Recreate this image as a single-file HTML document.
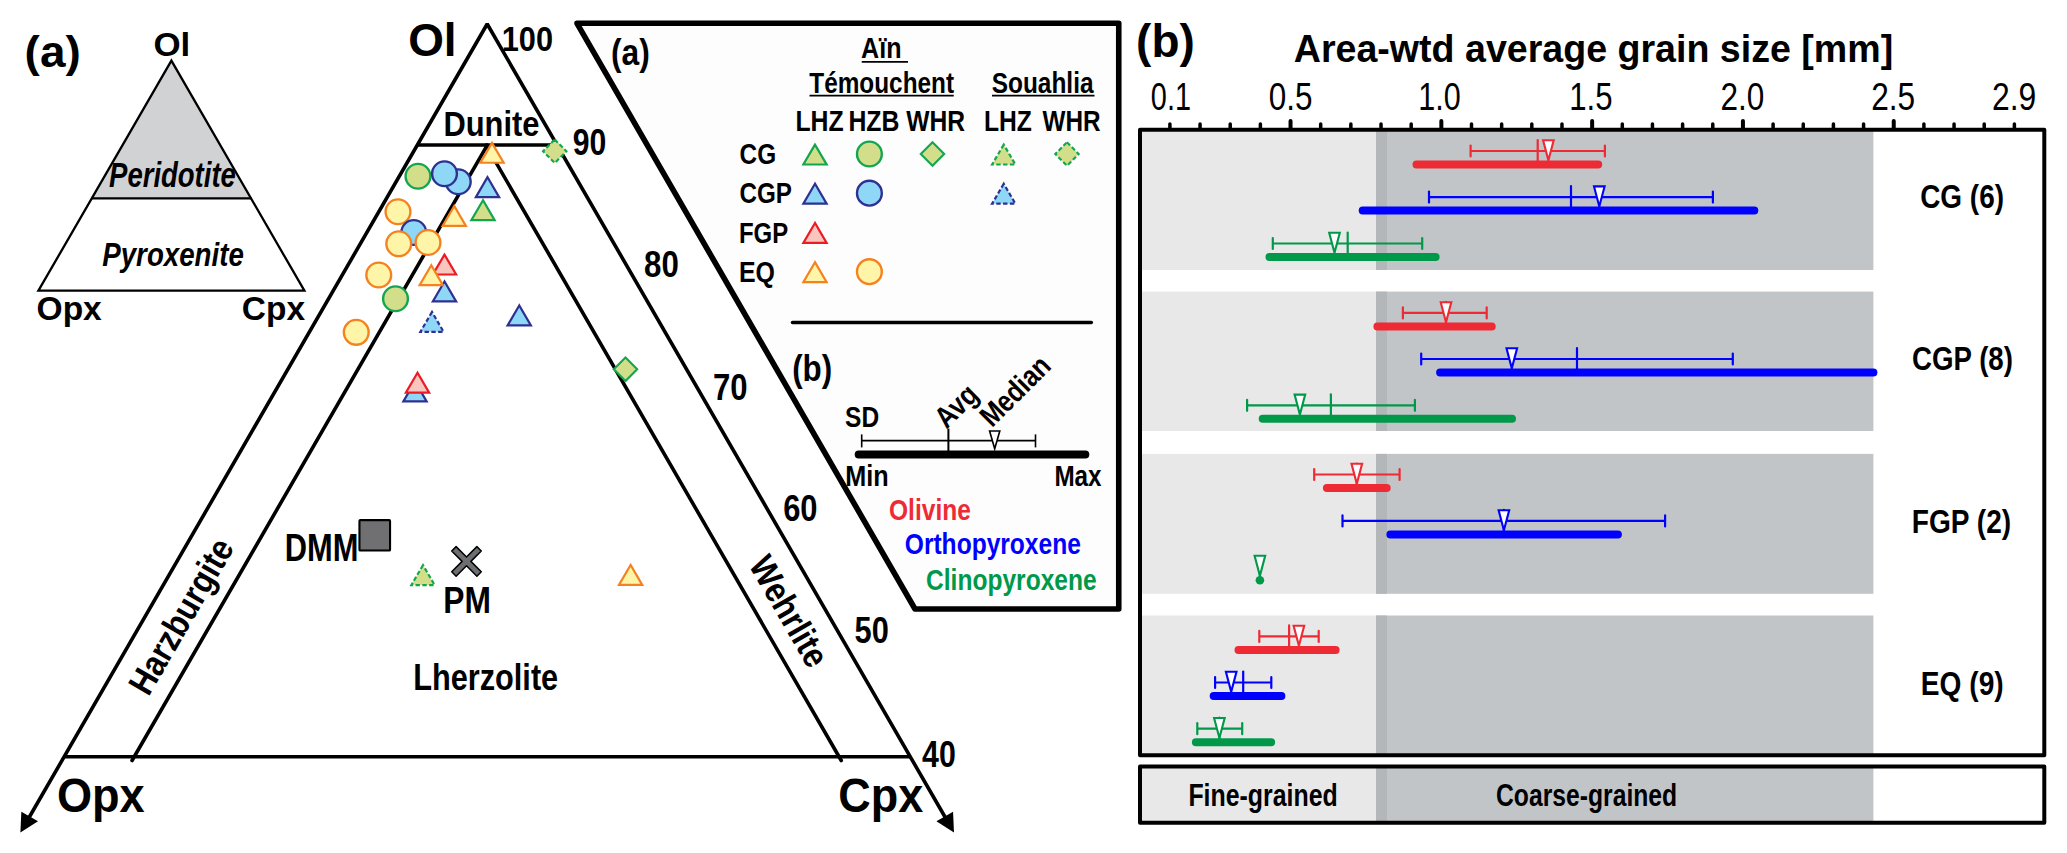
<!DOCTYPE html>
<html><head><meta charset="utf-8"><title>Figure</title>
<style>html,body{margin:0;padding:0;background:#fff;}svg{display:block;font-family:"Liberation Sans",sans-serif;}</style>
</head><body>
<svg width="2067" height="853" viewBox="0 0 2067 853">
<rect width="2067" height="853" fill="#fff"/>
<polygon points="171.4,59.8 91.3,198.3 251.5,198.3" fill="#d1d2d4"/>
<polygon points="171.4,60.6 38.4,290.7 304.4,290.7" fill="none" stroke="#000" stroke-width="2.3" stroke-linejoin="miter"/>
<line x1="91.3" y1="198.3" x2="251.5" y2="198.3" stroke="#000" stroke-width="2.3"/>
<text transform="translate(24.61,66.90) scale(1.0169,1)" font-size="45.10" font-weight="bold" font-style="normal" fill="#000">(a)</text>
<text transform="translate(153.40,55.90) scale(1.0513,1)" font-size="33.24" font-weight="bold" font-style="normal" fill="#000">Ol</text>
<text transform="translate(109.05,187.40) scale(0.7916,1)" font-size="34.76" font-weight="bold" font-style="italic" fill="#000">Peridotite</text>
<text transform="translate(102.25,266.00) scale(0.8168,1)" font-size="33.91" font-weight="bold" font-style="italic" fill="#000">Pyroxenite</text>
<text transform="translate(36.56,319.60) scale(0.9819,1)" font-size="34.14" font-weight="bold" font-style="normal" fill="#000">Opx</text>
<text transform="translate(241.76,319.60) scale(0.9811,1)" font-size="34.14" font-weight="bold" font-style="normal" fill="#000">Cpx</text>
<polygon points="577,23.3 915,609 1118.75,609 1118.75,23.3" fill="#fdfdfd" stroke="#000" stroke-width="5.6" stroke-linejoin="round"/>
<polyline points="26.19,822.5 487.2,24.0 948.21,822.5" fill="none" stroke="#000" stroke-width="3.6" stroke-linejoin="bevel"/>
<line x1="64.18" y1="756.7" x2="910.22" y2="756.7" stroke="#000" stroke-width="3.6"/>
<line x1="417.34" y1="145.0" x2="557.06" y2="145.0" stroke="#000" stroke-width="3.6"/>
<line x1="487.3" y1="145.2" x2="132.06" y2="760.5" stroke="#000" stroke-width="3.6" stroke-linecap="round"/>
<line x1="486.0" y1="145.2" x2="841.24" y2="760.5" stroke="#000" stroke-width="3.6" stroke-linecap="round"/>
<polygon points="20.41,832.50 21.35,811.68 37.98,821.28" fill="#000"/>
<polygon points="953.99,832.50 936.42,821.28 953.05,811.68" fill="#000"/>
<text transform="translate(408.16,56.20) scale(1.0114,1)" font-size="45.38" font-weight="bold" font-style="normal" fill="#000">Ol</text>
<text transform="translate(501.76,50.60) scale(0.8675,1)" font-size="35.43" font-weight="bold" font-style="normal" fill="#000">100</text>
<text transform="translate(443.39,135.70) scale(0.8682,1)" font-size="35.59" font-weight="bold" font-style="normal" fill="#000">Dunite</text>
<text transform="translate(572.69,155.00) scale(0.8256,1)" font-size="36.57" font-weight="bold" font-style="normal" fill="#000">90</text>
<text transform="translate(644.06,277.30) scale(0.8545,1)" font-size="36.57" font-weight="bold" font-style="normal" fill="#000">80</text>
<text transform="translate(713.01,399.50) scale(0.8495,1)" font-size="36.57" font-weight="bold" font-style="normal" fill="#000">70</text>
<text transform="translate(783.17,521.30) scale(0.8454,1)" font-size="36.57" font-weight="bold" font-style="normal" fill="#000">60</text>
<text transform="translate(854.58,643.00) scale(0.8413,1)" font-size="36.57" font-weight="bold" font-style="normal" fill="#000">50</text>
<text transform="translate(922.05,767.30) scale(0.8294,1)" font-size="36.57" font-weight="bold" font-style="normal" fill="#000">40</text>
<text transform="translate(56.94,812.30) scale(0.9211,1)" font-size="49.00" font-weight="bold" font-style="normal" fill="#000">Opx</text>
<text transform="translate(838.20,812.30) scale(0.9181,1)" font-size="49.00" font-weight="bold" font-style="normal" fill="#000">Cpx</text>
<text transform="translate(284.79,560.60) scale(0.8129,1)" font-size="37.97" font-weight="bold" font-style="normal" fill="#000">DMM</text>
<text transform="translate(443.34,612.70) scale(0.8386,1)" font-size="37.83" font-weight="bold" font-style="normal" fill="#000">PM</text>
<text transform="translate(413.20,690.40) scale(0.8435,1)" font-size="36.41" font-weight="bold" font-style="normal" fill="#000">Lherzolite</text>
<text transform="translate(180.70,615.50) rotate(-60) translate(-87.03,13.00) scale(0.8690,1)" font-size="35.86" font-weight="bold" font-style="normal" fill="#000">Harzburgite</text>
<text transform="translate(789.50,610.50) rotate(60) translate(-60.25,13.00) scale(0.8638,1)" font-size="35.86" font-weight="bold" font-style="normal" fill="#000">Wehrlite</text>
<circle cx="418.00" cy="176.25" r="12.4" fill="#d3de8a" stroke="#14a550" stroke-width="2.4"/>
<circle cx="458.25" cy="181.75" r="12.4" fill="#8fd7f7" stroke="#2e3192" stroke-width="2.4"/>
<circle cx="444.50" cy="173.75" r="12.4" fill="#8fd7f7" stroke="#2e3192" stroke-width="2.4"/>
<circle cx="398.00" cy="211.75" r="12.4" fill="#fff5a8" stroke="#f58220" stroke-width="2.4"/>
<circle cx="413.75" cy="232.50" r="12.4" fill="#8fd7f7" stroke="#2e3192" stroke-width="2.4"/>
<circle cx="398.75" cy="243.75" r="12.4" fill="#fff5a8" stroke="#f58220" stroke-width="2.4"/>
<circle cx="428.00" cy="242.50" r="12.4" fill="#fff5a8" stroke="#f58220" stroke-width="2.4"/>
<circle cx="378.75" cy="275.00" r="12.4" fill="#fff5a8" stroke="#f58220" stroke-width="2.4"/>
<circle cx="395.50" cy="298.75" r="12.4" fill="#d3de8a" stroke="#14a550" stroke-width="2.4"/>
<circle cx="356.25" cy="332.30" r="12.4" fill="#fff5a8" stroke="#f58220" stroke-width="2.4"/>
<polygon points="492.00,142.85 480.37,162.75 503.63,162.75" fill="#fff5a8" stroke="#f58220" stroke-width="2.2" stroke-linejoin="miter"/>
<polygon points="487.50,177.17 475.87,197.07 499.13,197.07" fill="#8fd7f7" stroke="#2e3192" stroke-width="2.2" stroke-linejoin="miter"/>
<polygon points="483.00,200.22 471.37,220.12 494.63,220.12" fill="#d3de8a" stroke="#14a550" stroke-width="2.2" stroke-linejoin="miter"/>
<polygon points="454.25,205.97 442.62,225.88 465.88,225.88" fill="#fff5a8" stroke="#f58220" stroke-width="2.2" stroke-linejoin="miter"/>
<polygon points="444.50,254.60 432.87,274.50 456.13,274.50" fill="#f8c6bf" stroke="#ed1c24" stroke-width="2.2" stroke-linejoin="miter"/>
<polygon points="444.50,281.47 432.87,301.37 456.13,301.37" fill="#8fd7f7" stroke="#2e3192" stroke-width="2.2" stroke-linejoin="miter"/>
<polygon points="431.25,265.22 419.62,285.12 442.88,285.12" fill="#fff5a8" stroke="#f58220" stroke-width="2.2" stroke-linejoin="miter"/>
<polygon points="432.00,311.97 420.37,331.87 443.63,331.87" fill="#8fd7f7" stroke="#2e3192" stroke-width="2.2" stroke-linejoin="miter" stroke-dasharray="4.4 2.4"/>
<polygon points="519.25,305.45 507.62,325.35 530.88,325.35" fill="#8fd7f7" stroke="#2e3192" stroke-width="2.2" stroke-linejoin="miter"/>
<polygon points="415.00,381.47 403.37,401.37 426.63,401.37" fill="#8fd7f7" stroke="#2e3192" stroke-width="2.2" stroke-linejoin="miter"/>
<polygon points="417.50,372.72 405.87,392.62 429.13,392.62" fill="#f8c6bf" stroke="#ed1c24" stroke-width="2.2" stroke-linejoin="miter"/>
<polygon points="423.00,565.15 411.37,585.05 434.63,585.05" fill="#d3de8a" stroke="#14a550" stroke-width="2.2" stroke-linejoin="miter" stroke-dasharray="4.4 2.4"/>
<polygon points="630.60,565.00 618.97,584.90 642.23,584.90" fill="#fff5a8" stroke="#f58220" stroke-width="2.2" stroke-linejoin="miter"/>
<polygon points="554.75,139.55 566.45,151.25 554.75,162.95 543.05,151.25" fill="#d3de8a" stroke="#14a550" stroke-width="2.1" stroke-dasharray="4.4 2.4"/>
<polygon points="625.50,357.55 637.20,369.25 625.50,380.95 613.80,369.25" fill="#d3de8a" stroke="#14a550" stroke-width="2.1"/>
<rect x="359.45" y="520.15" width="30.6" height="30.3" rx="0.8" fill="#707072" stroke="#000" stroke-width="2.1"/>
<polygon transform="translate(466.5,561.4) rotate(45)" points="-3.1,-17.8 3.1,-17.8 3.1,-3.1 17.8,-3.1 17.8,3.1 3.1,3.1 3.1,17.8 -3.1,17.8 -3.1,3.1 -17.8,3.1 -17.8,-3.1 -3.1,-3.1" fill="#6d6e71" stroke="#000" stroke-width="1.5" stroke-linejoin="round"/>
<text transform="translate(610.91,64.70) scale(0.8597,1)" font-size="36.97" font-weight="bold" font-style="normal" fill="#000">(a)</text>
<text transform="translate(861.12,58.20) scale(0.8741,1)" font-size="28.70" font-weight="bold" font-style="normal" fill="#000">Aïn</text>
<line x1="861.75" y1="61.9" x2="908" y2="61.9" stroke="#000" stroke-width="1.8"/>
<text transform="translate(809.26,92.70) scale(0.8201,1)" font-size="29.71" font-weight="bold" font-style="normal" fill="#000">Témouchent</text>
<line x1="809.5" y1="95.6" x2="953.75" y2="95.6" stroke="#000" stroke-width="1.8"/>
<text transform="translate(991.77,92.70) scale(0.8314,1)" font-size="29.38" font-weight="bold" font-style="normal" fill="#000">Souahlia</text>
<line x1="992" y1="95.6" x2="1094.5" y2="95.6" stroke="#000" stroke-width="1.8"/>
<text transform="translate(795.39,131.00) scale(0.8347,1)" font-size="29.71" font-weight="bold" font-style="normal" fill="#000">LHZ</text>
<text transform="translate(848.39,131.00) scale(0.8350,1)" font-size="29.71" font-weight="bold" font-style="normal" fill="#000">HZB</text>
<text transform="translate(906.25,131.00) scale(0.8290,1)" font-size="29.71" font-weight="bold" font-style="normal" fill="#000">WHR</text>
<text transform="translate(983.90,131.00) scale(0.8301,1)" font-size="29.71" font-weight="bold" font-style="normal" fill="#000">LHZ</text>
<text transform="translate(1042.50,131.00) scale(0.8183,1)" font-size="29.71" font-weight="bold" font-style="normal" fill="#000">WHR</text>
<text transform="translate(739.53,164.20) scale(0.8124,1)" font-size="30.00" font-weight="bold" font-style="normal" fill="#000">CG</text>
<text transform="translate(739.53,203.40) scale(0.8075,1)" font-size="30.00" font-weight="bold" font-style="normal" fill="#000">CGP</text>
<text transform="translate(738.94,242.90) scale(0.7993,1)" font-size="30.00" font-weight="bold" font-style="normal" fill="#000">FGP</text>
<text transform="translate(738.88,282.10) scale(0.8302,1)" font-size="30.00" font-weight="bold" font-style="normal" fill="#000">EQ</text>
<polygon points="815.00,144.60 803.37,164.50 826.63,164.50" fill="#d3de8a" stroke="#14a550" stroke-width="2.2" stroke-linejoin="miter"/>
<circle cx="869.40" cy="154.00" r="12.4" fill="#d3de8a" stroke="#14a550" stroke-width="2.4"/>
<polygon points="815.00,183.80 803.37,203.70 826.63,203.70" fill="#8fd7f7" stroke="#2e3192" stroke-width="2.2" stroke-linejoin="miter"/>
<circle cx="869.40" cy="193.20" r="12.4" fill="#8fd7f7" stroke="#2e3192" stroke-width="2.4"/>
<polygon points="815.00,223.00 803.37,242.90 826.63,242.90" fill="#f8c6bf" stroke="#ed1c24" stroke-width="2.2" stroke-linejoin="miter"/>
<polygon points="815.00,262.30 803.37,282.20 826.63,282.20" fill="#fff5a8" stroke="#f58220" stroke-width="2.2" stroke-linejoin="miter"/>
<circle cx="869.40" cy="271.70" r="12.4" fill="#fff5a8" stroke="#f58220" stroke-width="2.4"/>
<polygon points="932.50,142.30 944.20,154.00 932.50,165.70 920.80,154.00" fill="#d3de8a" stroke="#14a550" stroke-width="2.1"/>
<polygon points="1003.75,144.60 992.12,164.50 1015.38,164.50" fill="#d3de8a" stroke="#14a550" stroke-width="2.2" stroke-linejoin="miter" stroke-dasharray="4.4 2.4"/>
<polygon points="1067.00,142.30 1078.70,154.00 1067.00,165.70 1055.30,154.00" fill="#d3de8a" stroke="#14a550" stroke-width="2.1" stroke-dasharray="4.4 2.4"/>
<polygon points="1003.75,183.80 992.12,203.70 1015.38,203.70" fill="#8fd7f7" stroke="#2e3192" stroke-width="2.2" stroke-linejoin="miter" stroke-dasharray="4.4 2.4"/>
<line x1="792.5" y1="322.5" x2="1091.3" y2="322.5" stroke="#000" stroke-width="3.5" stroke-linecap="round"/>
<text transform="translate(792.18,381.00) scale(0.8482,1)" font-size="36.97" font-weight="bold" font-style="normal" fill="#000">(b)</text>
<text transform="translate(845.07,426.90) scale(0.8361,1)" font-size="29.29" font-weight="bold" font-style="normal" fill="#000">SD</text>
<text transform="translate(845.16,485.60) scale(0.8785,1)" font-size="28.69" font-weight="bold" font-style="normal" fill="#000">Min</text>
<text transform="translate(1054.42,485.60) scale(0.8128,1)" font-size="29.86" font-weight="bold" font-style="normal" fill="#000">Max</text>
<text transform="translate(889.02,520.20) scale(0.8554,1)" font-size="28.69" font-weight="bold" font-style="normal" fill="#ee2b35">Olivine</text>
<text transform="translate(904.77,554.00) scale(0.8566,1)" font-size="28.69" font-weight="bold" font-style="normal" fill="#0000ff">Orthopyroxene</text>
<text transform="translate(926.02,590.20) scale(0.8400,1)" font-size="29.24" font-weight="bold" font-style="normal" fill="#00994a">Clinopyroxene</text>
<text transform="translate(955.65,406.25) rotate(-45) translate(-23.14,10.25) scale(0.8606,1)" font-size="29.71" font-weight="bold" font-style="normal" fill="#000">Avg</text>
<text transform="translate(1015.00,390.80) rotate(-45) translate(-42.87,10.25) scale(0.8364,1)" font-size="29.71" font-weight="bold" font-style="normal" fill="#000">Median</text>
<line x1="861.7" y1="440.6" x2="1035.5" y2="440.6" stroke="#000" stroke-width="1.6"/>
<line x1="861.7" y1="434.4" x2="861.7" y2="447.4" stroke="#000" stroke-width="1.6"/>
<line x1="1035.5" y1="434.4" x2="1035.5" y2="447.4" stroke="#000" stroke-width="1.6"/>
<line x1="948.4" y1="428.6" x2="948.4" y2="452" stroke="#000" stroke-width="2"/>
<polygon points="989.6,431 999.8,431 994.7,448.8" fill="#fff" stroke="#000" stroke-width="1.6"/>
<line x1="858.7" y1="454.6" x2="1085.3" y2="454.6" stroke="#000" stroke-width="8" stroke-linecap="round"/>
<text transform="translate(1136.10,57.30) scale(0.9882,1)" font-size="46.48" font-weight="bold" font-style="normal" fill="#000">(b)</text>
<text transform="translate(1293.76,62.40) scale(0.9568,1)" font-size="39.28" font-weight="bold" font-style="normal" fill="#000">Area-wtd average grain size [mm]</text>
<text transform="translate(1150.84,110.20) scale(0.7435,1)" font-size="38.86" font-weight="normal" font-style="normal" fill="#000">0.1</text>
<text transform="translate(1268.74,110.20) scale(0.8094,1)" font-size="38.86" font-weight="normal" font-style="normal" fill="#000">0.5</text>
<text transform="translate(1418.21,110.20) scale(0.7861,1)" font-size="38.86" font-weight="normal" font-style="normal" fill="#000">1.0</text>
<text transform="translate(1569.26,110.20) scale(0.7899,1)" font-size="39.42" font-weight="normal" font-style="normal" fill="#000">1.5</text>
<text transform="translate(1720.42,110.20) scale(0.8125,1)" font-size="38.86" font-weight="normal" font-style="normal" fill="#000">2.0</text>
<text transform="translate(1871.22,110.20) scale(0.8136,1)" font-size="38.86" font-weight="normal" font-style="normal" fill="#000">2.5</text>
<text transform="translate(1992.01,110.20) scale(0.8207,1)" font-size="38.86" font-weight="normal" font-style="normal" fill="#000">2.9</text>
<rect x="1141" y="131" width="235" height="139.00" fill="#e8e8e8"/>
<rect x="1376" y="131" width="497.40" height="139.00" fill="#c2c5c8"/>
<rect x="1376" y="131" width="11" height="139.00" fill="#b3b7b9"/>
<rect x="1141" y="291.6" width="235" height="139.40" fill="#e8e8e8"/>
<rect x="1376" y="291.6" width="497.40" height="139.40" fill="#c2c5c8"/>
<rect x="1376" y="291.6" width="11" height="139.40" fill="#b3b7b9"/>
<rect x="1141" y="453.9" width="235" height="139.90" fill="#e8e8e8"/>
<rect x="1376" y="453.9" width="497.40" height="139.90" fill="#c2c5c8"/>
<rect x="1376" y="453.9" width="11" height="139.90" fill="#b3b7b9"/>
<rect x="1141" y="615.5" width="235" height="138.50" fill="#e8e8e8"/>
<rect x="1376" y="615.5" width="497.40" height="138.50" fill="#c2c5c8"/>
<rect x="1376" y="615.5" width="11" height="138.50" fill="#b3b7b9"/>
<rect x="1141" y="768" width="235" height="53.50" fill="#e8e8e8"/>
<rect x="1376" y="768" width="497.40" height="53.50" fill="#c2c5c8"/>
<rect x="1376" y="768" width="11" height="53.50" fill="#b3b7b9"/>
<line x1="1169.90" y1="124.1" x2="1169.90" y2="129" stroke="#000" stroke-width="3.5" stroke-linecap="round"/>
<line x1="1200.06" y1="124.1" x2="1200.06" y2="129" stroke="#000" stroke-width="3.5" stroke-linecap="round"/>
<line x1="1230.22" y1="124.1" x2="1230.22" y2="129" stroke="#000" stroke-width="3.5" stroke-linecap="round"/>
<line x1="1260.38" y1="124.1" x2="1260.38" y2="129" stroke="#000" stroke-width="3.5" stroke-linecap="round"/>
<line x1="1290.54" y1="121.0" x2="1290.54" y2="129" stroke="#000" stroke-width="4.0" stroke-linecap="round"/>
<line x1="1320.70" y1="124.1" x2="1320.70" y2="129" stroke="#000" stroke-width="3.5" stroke-linecap="round"/>
<line x1="1350.86" y1="124.1" x2="1350.86" y2="129" stroke="#000" stroke-width="3.5" stroke-linecap="round"/>
<line x1="1381.02" y1="124.1" x2="1381.02" y2="129" stroke="#000" stroke-width="3.5" stroke-linecap="round"/>
<line x1="1411.18" y1="124.1" x2="1411.18" y2="129" stroke="#000" stroke-width="3.5" stroke-linecap="round"/>
<line x1="1441.34" y1="121.0" x2="1441.34" y2="129" stroke="#000" stroke-width="4.0" stroke-linecap="round"/>
<line x1="1471.50" y1="124.1" x2="1471.50" y2="129" stroke="#000" stroke-width="3.5" stroke-linecap="round"/>
<line x1="1501.66" y1="124.1" x2="1501.66" y2="129" stroke="#000" stroke-width="3.5" stroke-linecap="round"/>
<line x1="1531.82" y1="124.1" x2="1531.82" y2="129" stroke="#000" stroke-width="3.5" stroke-linecap="round"/>
<line x1="1561.98" y1="124.1" x2="1561.98" y2="129" stroke="#000" stroke-width="3.5" stroke-linecap="round"/>
<line x1="1592.14" y1="121.0" x2="1592.14" y2="129" stroke="#000" stroke-width="4.0" stroke-linecap="round"/>
<line x1="1622.30" y1="124.1" x2="1622.30" y2="129" stroke="#000" stroke-width="3.5" stroke-linecap="round"/>
<line x1="1652.46" y1="124.1" x2="1652.46" y2="129" stroke="#000" stroke-width="3.5" stroke-linecap="round"/>
<line x1="1682.62" y1="124.1" x2="1682.62" y2="129" stroke="#000" stroke-width="3.5" stroke-linecap="round"/>
<line x1="1712.78" y1="124.1" x2="1712.78" y2="129" stroke="#000" stroke-width="3.5" stroke-linecap="round"/>
<line x1="1742.94" y1="121.0" x2="1742.94" y2="129" stroke="#000" stroke-width="4.0" stroke-linecap="round"/>
<line x1="1773.10" y1="124.1" x2="1773.10" y2="129" stroke="#000" stroke-width="3.5" stroke-linecap="round"/>
<line x1="1803.26" y1="124.1" x2="1803.26" y2="129" stroke="#000" stroke-width="3.5" stroke-linecap="round"/>
<line x1="1833.42" y1="124.1" x2="1833.42" y2="129" stroke="#000" stroke-width="3.5" stroke-linecap="round"/>
<line x1="1863.58" y1="124.1" x2="1863.58" y2="129" stroke="#000" stroke-width="3.5" stroke-linecap="round"/>
<line x1="1893.74" y1="121.0" x2="1893.74" y2="129" stroke="#000" stroke-width="4.0" stroke-linecap="round"/>
<line x1="1923.90" y1="124.1" x2="1923.90" y2="129" stroke="#000" stroke-width="3.5" stroke-linecap="round"/>
<line x1="1954.06" y1="124.1" x2="1954.06" y2="129" stroke="#000" stroke-width="3.5" stroke-linecap="round"/>
<line x1="1984.22" y1="124.1" x2="1984.22" y2="129" stroke="#000" stroke-width="3.5" stroke-linecap="round"/>
<line x1="2014.38" y1="124.1" x2="2014.38" y2="129" stroke="#000" stroke-width="3.5" stroke-linecap="round"/>
<rect x="1140" y="129.7" width="904.3" height="625.5" fill="none" stroke="#000" stroke-width="4" stroke-linejoin="round"/>
<rect x="1140" y="766.5" width="904.3" height="56.3" fill="none" stroke="#000" stroke-width="4" stroke-linejoin="round"/>
<line x1="1470.6" y1="151.0" x2="1604.9" y2="151.0" stroke="#ee2b35" stroke-width="2.2"/>
<line x1="1470.6" y1="145.5" x2="1470.6" y2="156.5" stroke="#ee2b35" stroke-width="2.2" stroke-linecap="round"/>
<line x1="1604.9" y1="145.5" x2="1604.9" y2="156.5" stroke="#ee2b35" stroke-width="2.2" stroke-linecap="round"/>
<line x1="1537.7" y1="140.0" x2="1537.7" y2="162.5" stroke="#ee2b35" stroke-width="2.2" stroke-linecap="round"/>
<line x1="1416.5" y1="164.5" x2="1598.2" y2="164.5" stroke="#ee2b35" stroke-width="8" stroke-linecap="round"/>
<polygon points="1543.10,140.30 1553.70,140.30 1548.40,160.30" fill="#fff" stroke="#ee2b35" stroke-width="2.1" stroke-linejoin="miter"/>
<line x1="1429" y1="197.1" x2="1712.9" y2="197.1" stroke="#0000ff" stroke-width="2.2"/>
<line x1="1429" y1="191.6" x2="1429" y2="202.6" stroke="#0000ff" stroke-width="2.2" stroke-linecap="round"/>
<line x1="1712.9" y1="191.6" x2="1712.9" y2="202.6" stroke="#0000ff" stroke-width="2.2" stroke-linecap="round"/>
<line x1="1571" y1="186.1" x2="1571" y2="208.6" stroke="#0000ff" stroke-width="2.2" stroke-linecap="round"/>
<line x1="1362.7" y1="210.6" x2="1754.3" y2="210.6" stroke="#0000ff" stroke-width="8" stroke-linecap="round"/>
<polygon points="1594.00,186.40 1604.60,186.40 1599.30,206.40" fill="#fff" stroke="#0000ff" stroke-width="2.1" stroke-linejoin="miter"/>
<line x1="1272.8" y1="243.5" x2="1422.2" y2="243.5" stroke="#00994a" stroke-width="2.2"/>
<line x1="1272.8" y1="238.0" x2="1272.8" y2="249.0" stroke="#00994a" stroke-width="2.2" stroke-linecap="round"/>
<line x1="1422.2" y1="238.0" x2="1422.2" y2="249.0" stroke="#00994a" stroke-width="2.2" stroke-linecap="round"/>
<line x1="1347.7" y1="232.5" x2="1347.7" y2="255" stroke="#00994a" stroke-width="2.2" stroke-linecap="round"/>
<line x1="1269.5" y1="257" x2="1435.6" y2="257" stroke="#00994a" stroke-width="8" stroke-linecap="round"/>
<polygon points="1329.20,232.80 1339.80,232.80 1334.50,252.80" fill="#fff" stroke="#00994a" stroke-width="2.1" stroke-linejoin="miter"/>
<line x1="1402.9" y1="312.9" x2="1486.7" y2="312.9" stroke="#ee2b35" stroke-width="2.2"/>
<line x1="1402.9" y1="307.4" x2="1402.9" y2="318.4" stroke="#ee2b35" stroke-width="2.2" stroke-linecap="round"/>
<line x1="1486.7" y1="307.4" x2="1486.7" y2="318.4" stroke="#ee2b35" stroke-width="2.2" stroke-linecap="round"/>
<line x1="1446" y1="301.9" x2="1446" y2="324.4" stroke="#ee2b35" stroke-width="2.2" stroke-linecap="round"/>
<line x1="1377.4" y1="326.4" x2="1491.7" y2="326.4" stroke="#ee2b35" stroke-width="8" stroke-linecap="round"/>
<polygon points="1440.70,302.20 1451.30,302.20 1446.00,322.20" fill="#fff" stroke="#ee2b35" stroke-width="2.1" stroke-linejoin="miter"/>
<line x1="1421.2" y1="359.0" x2="1732.8" y2="359.0" stroke="#0000ff" stroke-width="2.2"/>
<line x1="1421.2" y1="353.5" x2="1421.2" y2="364.5" stroke="#0000ff" stroke-width="2.2" stroke-linecap="round"/>
<line x1="1732.8" y1="353.5" x2="1732.8" y2="364.5" stroke="#0000ff" stroke-width="2.2" stroke-linecap="round"/>
<line x1="1577" y1="348.0" x2="1577" y2="370.5" stroke="#0000ff" stroke-width="2.2" stroke-linecap="round"/>
<line x1="1440.1" y1="372.5" x2="1873.4" y2="372.5" stroke="#0000ff" stroke-width="8" stroke-linecap="round"/>
<polygon points="1506.50,348.30 1517.10,348.30 1511.80,368.30" fill="#fff" stroke="#0000ff" stroke-width="2.1" stroke-linejoin="miter"/>
<line x1="1247.1" y1="405.3" x2="1414.9" y2="405.3" stroke="#00994a" stroke-width="2.2"/>
<line x1="1247.1" y1="399.8" x2="1247.1" y2="410.8" stroke="#00994a" stroke-width="2.2" stroke-linecap="round"/>
<line x1="1414.9" y1="399.8" x2="1414.9" y2="410.8" stroke="#00994a" stroke-width="2.2" stroke-linecap="round"/>
<line x1="1330.9" y1="394.3" x2="1330.9" y2="416.8" stroke="#00994a" stroke-width="2.2" stroke-linecap="round"/>
<line x1="1262.7" y1="418.8" x2="1512" y2="418.8" stroke="#00994a" stroke-width="8" stroke-linecap="round"/>
<polygon points="1294.60,394.60 1305.20,394.60 1299.90,414.60" fill="#fff" stroke="#00994a" stroke-width="2.1" stroke-linejoin="miter"/>
<line x1="1314.2" y1="474.5" x2="1399.6" y2="474.5" stroke="#ee2b35" stroke-width="2.2"/>
<line x1="1314.2" y1="469.0" x2="1314.2" y2="480.0" stroke="#ee2b35" stroke-width="2.2" stroke-linecap="round"/>
<line x1="1399.6" y1="469.0" x2="1399.6" y2="480.0" stroke="#ee2b35" stroke-width="2.2" stroke-linecap="round"/>
<line x1="1356.8" y1="463.5" x2="1356.8" y2="486" stroke="#ee2b35" stroke-width="2.2" stroke-linecap="round"/>
<line x1="1326.9" y1="488" x2="1386.7" y2="488" stroke="#ee2b35" stroke-width="8" stroke-linecap="round"/>
<polygon points="1351.50,463.80 1362.10,463.80 1356.80,483.80" fill="#fff" stroke="#ee2b35" stroke-width="2.1" stroke-linejoin="miter"/>
<line x1="1342.5" y1="520.9" x2="1665.1" y2="520.9" stroke="#0000ff" stroke-width="2.2"/>
<line x1="1342.5" y1="515.4" x2="1342.5" y2="526.4" stroke="#0000ff" stroke-width="2.2" stroke-linecap="round"/>
<line x1="1665.1" y1="515.4" x2="1665.1" y2="526.4" stroke="#0000ff" stroke-width="2.2" stroke-linecap="round"/>
<line x1="1503.9" y1="509.9" x2="1503.9" y2="532.4" stroke="#0000ff" stroke-width="2.2" stroke-linecap="round"/>
<line x1="1390.4" y1="534.4" x2="1617.9" y2="534.4" stroke="#0000ff" stroke-width="8" stroke-linecap="round"/>
<polygon points="1498.60,510.20 1509.20,510.20 1503.90,530.20" fill="#fff" stroke="#0000ff" stroke-width="2.1" stroke-linejoin="miter"/>
<circle cx="1259.9" cy="580.3" r="4.3" fill="#00994a"/>
<line x1="1259.9" y1="560" x2="1259.9" y2="580" stroke="#00994a" stroke-width="2.2"/>
<polygon points="1254.60,555.80 1265.20,555.80 1259.90,575.80" fill="#fff" stroke="#00994a" stroke-width="2.1" stroke-linejoin="miter"/>
<line x1="1259.3" y1="636.4" x2="1318.7" y2="636.4" stroke="#ee2b35" stroke-width="2.2"/>
<line x1="1259.3" y1="630.9" x2="1259.3" y2="641.9" stroke="#ee2b35" stroke-width="2.2" stroke-linecap="round"/>
<line x1="1318.7" y1="630.9" x2="1318.7" y2="641.9" stroke="#ee2b35" stroke-width="2.2" stroke-linecap="round"/>
<line x1="1289.1" y1="625.4" x2="1289.1" y2="647.9" stroke="#ee2b35" stroke-width="2.2" stroke-linecap="round"/>
<line x1="1238.5" y1="649.9" x2="1335.6" y2="649.9" stroke="#ee2b35" stroke-width="8" stroke-linecap="round"/>
<polygon points="1293.60,625.70 1304.20,625.70 1298.90,645.70" fill="#fff" stroke="#ee2b35" stroke-width="2.1" stroke-linejoin="miter"/>
<line x1="1215.1" y1="682.5" x2="1271.3" y2="682.5" stroke="#0000ff" stroke-width="2.2"/>
<line x1="1215.1" y1="677.0" x2="1215.1" y2="688.0" stroke="#0000ff" stroke-width="2.2" stroke-linecap="round"/>
<line x1="1271.3" y1="677.0" x2="1271.3" y2="688.0" stroke="#0000ff" stroke-width="2.2" stroke-linecap="round"/>
<line x1="1243.2" y1="671.5" x2="1243.2" y2="694" stroke="#0000ff" stroke-width="2.2" stroke-linecap="round"/>
<line x1="1213.7" y1="696" x2="1281.4" y2="696" stroke="#0000ff" stroke-width="8" stroke-linecap="round"/>
<polygon points="1225.90,671.80 1236.50,671.80 1231.20,691.80" fill="#fff" stroke="#0000ff" stroke-width="2.1" stroke-linejoin="miter"/>
<line x1="1197.3" y1="728.7" x2="1242.2" y2="728.7" stroke="#00994a" stroke-width="2.2"/>
<line x1="1197.3" y1="723.2" x2="1197.3" y2="734.2" stroke="#00994a" stroke-width="2.2" stroke-linecap="round"/>
<line x1="1242.2" y1="723.2" x2="1242.2" y2="734.2" stroke="#00994a" stroke-width="2.2" stroke-linecap="round"/>
<line x1="1219.4" y1="717.7" x2="1219.4" y2="740.2" stroke="#00994a" stroke-width="2.2" stroke-linecap="round"/>
<line x1="1195.9" y1="742.2" x2="1271.1" y2="742.2" stroke="#00994a" stroke-width="8" stroke-linecap="round"/>
<polygon points="1214.10,718.00 1224.70,718.00 1219.40,738.00" fill="#fff" stroke="#00994a" stroke-width="2.1" stroke-linejoin="miter"/>
<text transform="translate(1920.18,208.30) scale(0.8301,1)" font-size="33.66" font-weight="bold" font-style="normal" fill="#000">CG (6)</text>
<text transform="translate(1912.09,369.80) scale(0.8179,1)" font-size="33.79" font-weight="bold" font-style="normal" fill="#000">CGP (8)</text>
<text transform="translate(1911.87,532.80) scale(0.8312,1)" font-size="33.79" font-weight="bold" font-style="normal" fill="#000">FGP (2)</text>
<text transform="translate(1920.87,694.60) scale(0.8323,1)" font-size="33.79" font-weight="bold" font-style="normal" fill="#000">EQ (9)</text>
<text transform="translate(1188.38,806.00) scale(0.8056,1)" font-size="30.90" font-weight="bold" font-style="normal" fill="#000">Fine-grained</text>
<text transform="translate(1496.01,806.00) scale(0.7995,1)" font-size="30.90" font-weight="bold" font-style="normal" fill="#000">Coarse-grained</text>
</svg>
</body></html>
